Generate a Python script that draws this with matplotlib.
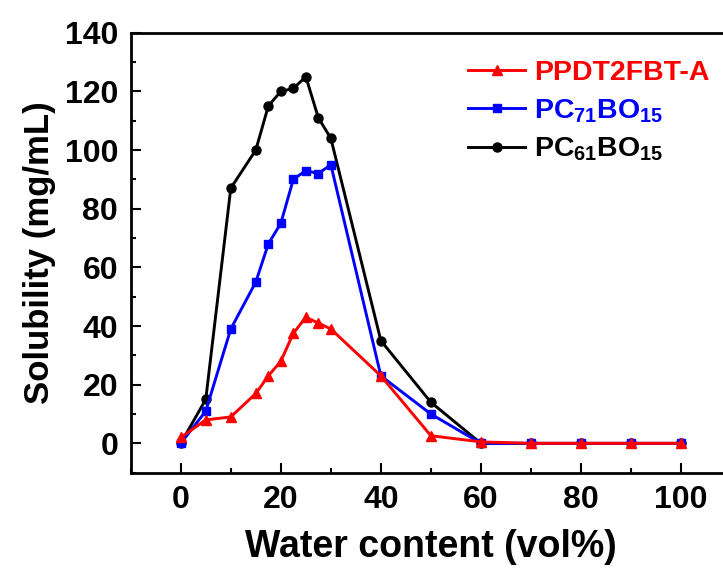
import matplotlib
matplotlib.use("Agg")
import matplotlib.pyplot as plt
from matplotlib.ticker import MultipleLocator

plt.rcParams['font.family'] = ['Liberation Sans', 'DejaVu Sans']
plt.rcParams['font.weight'] = 'bold'
plt.rcParams['mathtext.fontset'] = 'custom'
plt.rcParams['mathtext.rm'] = 'Liberation Sans:bold'
plt.rcParams['mathtext.bf'] = 'Liberation Sans:bold'
plt.rcParams['mathtext.it'] = 'Liberation Sans:bold'

# water content (vol%)
water = [0, 5, 10, 15, 17.5, 20, 22.5, 25, 27.5, 30, 40, 50, 60, 70, 80, 90, 100]

# solubility (mg/mL)
ppdt = [2, 8, 9, 17, 23, 28, 37.5, 43, 41, 39, 23, 2.6, 0.5, 0, 0, 0, 0]
pc71 = [0, 11, 39, 55, 68, 75, 90, 93, 92, 95, 23, 10, 0, 0, 0, 0, 0]
pc61 = [0, 15, 87, 100, 115, 120, 121, 125, 111, 104, 35, 14, 0, 0, 0, 0, 0]

fig = plt.figure(figsize=(7.23, 5.68), dpi=100)
ax = fig.add_axes([0.1808, 0.1678, 0.8304, 0.7746])

l3, = ax.plot(water, pc61, color='black', lw=2.1, marker='o', ms=6.5,
              label='PC$_{61}$BO$_{15}$')
l2, = ax.plot(water, pc71, color='blue', lw=2.1, marker='s', ms=6,
              label='PC$_{71}$BO$_{15}$')
l1, = ax.plot(water, ppdt, color='red', lw=2.1, marker='^', ms=7.5,
              label='PPDT2FBT-A')

ax.set_xlim(-10, 110)
ax.set_ylim(-10, 140)
ax.xaxis.set_major_locator(MultipleLocator(20))
ax.xaxis.set_minor_locator(MultipleLocator(10))
ax.yaxis.set_major_locator(MultipleLocator(20))
ax.yaxis.set_minor_locator(MultipleLocator(10))

for s in ax.spines.values():
    s.set_linewidth(2)

ax.tick_params(which='both', direction='in', width=1.5, labelsize=23, pad=9)
ax.tick_params(which='major', length=7)
ax.tick_params(which='minor', length=3.5)
for lab in ax.get_xticklabels() + ax.get_yticklabels():
    lab.set_fontweight('bold')

ax.set_xlabel('Water content (vol%)', fontsize=27, fontweight='bold', labelpad=10)
ax.set_ylabel('Solubility (mg/mL)', fontsize=25, fontweight='bold', labelpad=6)

leg = ax.legend(handles=[l1, l2, l3], loc='upper left',
                bbox_to_anchor=(0.628, 0.92), bbox_transform=fig.transFigure,
                frameon=False, numpoints=1, handlelength=2.0, handletextpad=0.3,
                labelspacing=0.4, borderpad=0, prop={'size': 20.5, 'weight': 'bold'})
for txt, c in zip(leg.get_texts(), ['red', 'blue', 'black']):
    txt.set_color(c)

fig.savefig('out.png', dpi=100)
